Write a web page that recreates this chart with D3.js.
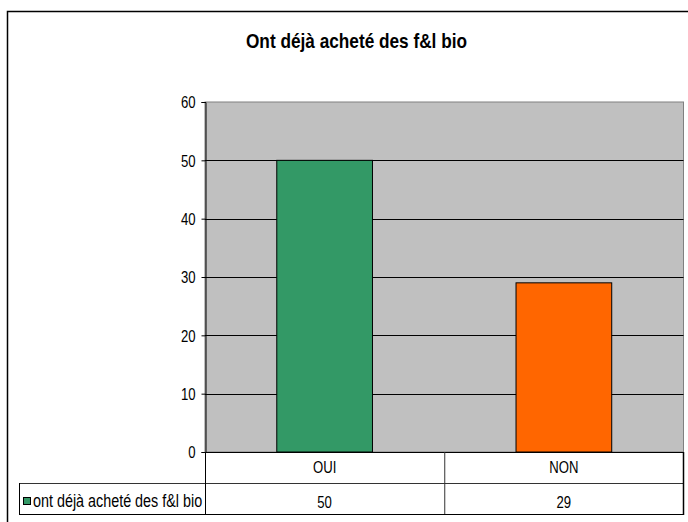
<!DOCTYPE html>
<html><head><meta charset="utf-8">
<script src="https://cdn.jsdelivr.net/npm/d3@7"></script>
<style>body{margin:0;background:#fff}svg{display:block}text{font-family:"Liberation Sans",Arial,sans-serif;fill:#000}</style>
</head><body>
<script>
const title = "Ont déjà acheté des f&l bio";
const categories = ["OUI", "NON"];
const values = [50, 29];
const seriesName = "ont déjà acheté des f&l bio";
const barColors = ["#339966", "#FF6600"];
const yTicks = [0, 10, 20, 30, 40, 50, 60];

const W = 688, H = 522;
const NARROW = 0.82;
const svg = d3.select("body").append("svg").attr("width", W).attr("height", H);

function narrow(sel) {
  sel.each(function () {
    const len = this.getComputedTextLength();
    d3.select(this).attr("textLength", len * NARROW).attr("lengthAdjust", "spacingAndGlyphs");
  });
}

// outer frame
svg.append("rect").attr("x", 7.5).attr("y", 11.5).attr("width", 700).attr("height", 540)
  .attr("fill", "#fff").attr("stroke", "#000").attr("stroke-width", 1.5);

const L = 205, R = 683.5, T = 102, B = 452;
const y = d3.scaleLinear().domain([0, 60]).range([B, T]);
const x = d3.scaleBand().domain(categories).range([L, R]).paddingInner(0.6).paddingOuter(0.3);
const xc = d3.scaleBand().domain(categories).range([L, R]).padding(0);

svg.append("rect").attr("x", L).attr("y", T).attr("width", R - L).attr("height", B - T)
  .attr("fill", "#C0C0C0").attr("stroke", "#808080").attr("stroke-width", 1);

// gridlines
svg.append("g").selectAll("line").data(yTicks.filter(d => d > 0 && d < 60)).join("line")
  .attr("x1", L).attr("x2", R).attr("y1", d => Math.round(y(d)) + 0.5).attr("y2", d => Math.round(y(d)) + 0.5)
  .attr("stroke", "#000").attr("stroke-width", 1);

// bars
svg.append("g").selectAll("rect").data(values).join("rect")
  .attr("x", (d, i) => x(categories[i]))
  .attr("y", d => y(d))
  .attr("width", x.bandwidth())
  .attr("height", d => B - y(d))
  .attr("fill", (d, i) => barColors[i])
  .attr("stroke", "#000").attr("stroke-width", 1);

// y axis
const yAxis = d3.axisLeft(y).tickValues(yTicks).tickSize(4).tickPadding(6).tickFormat(d3.format("d"));
const ga = svg.append("g").attr("transform", `translate(${L + 0.5},0)`).call(yAxis);
ga.select(".domain").attr("stroke", "#000");
ga.selectAll(".tick line").attr("stroke", "#000");
ga.selectAll(".tick text").attr("font-size", 16).attr("fill", "#000").attr("dy", "0.36em")
  .attr("font-family", "'Liberation Sans',Arial,sans-serif").call(narrow);

// data table
const r1 = B, r2 = 483, r3 = 514;
const TL = 19;
const tbl = svg.append("g").attr("stroke", "#000").attr("stroke-width", 1);
tbl.append("line").attr("x1", L).attr("x2", R).attr("y1", r1 + 0.5).attr("y2", r1 + 0.5);
tbl.append("line").attr("x1", TL).attr("x2", R).attr("y1", r2 + 0.5).attr("y2", r2 + 0.5).attr("stroke", "#333");
tbl.append("line").attr("x1", TL).attr("x2", R).attr("y1", r3 + 0.5).attr("y2", r3 + 0.5);
tbl.append("line").attr("x1", TL + 0.5).attr("x2", TL + 0.5).attr("y1", r2).attr("y2", r3);
tbl.append("line").attr("x1", L + 0.5).attr("x2", L + 0.5).attr("y1", r1).attr("y2", r3);
tbl.selectAll(".div").data(categories.slice(1)).join("line")
  .attr("x1", d => xc(d) + 0.5).attr("x2", d => xc(d) + 0.5).attr("y1", r1).attr("y2", r3).attr("stroke", "#333");
tbl.append("line").attr("x1", R).attr("x2", R).attr("y1", r1).attr("y2", r3 + 1).attr("stroke-width", 1.5);

svg.append("g").selectAll("text").data(categories).join("text")
  .attr("x", d => xc(d) + xc.bandwidth() / 2).attr("y", r1 + 21)
  .attr("text-anchor", "middle").attr("font-size", 16).text(d => d).call(narrow);
svg.append("g").selectAll("text").data(values).join("text")
  .attr("x", (d, i) => xc(categories[i]) + xc.bandwidth() / 2).attr("y", r2 + 25)
  .attr("text-anchor", "middle").attr("font-size", 16).text(d => d).call(narrow);

// legend key
svg.append("rect").attr("x", 23.5).attr("y", 497.5).attr("width", 7).attr("height", 7)
  .attr("fill", barColors[0]).attr("stroke", "#000").attr("stroke-width", 1);
svg.append("text").attr("x", 33).attr("y", 507).attr("font-size", 17.5).text(seriesName).call(narrow);

// title
svg.append("text").attr("x", 356.5).attr("y", 48).attr("text-anchor", "middle")
  .attr("font-size", 21).attr("font-weight", "bold").text(title).call(narrow);
</script>
</body></html>
